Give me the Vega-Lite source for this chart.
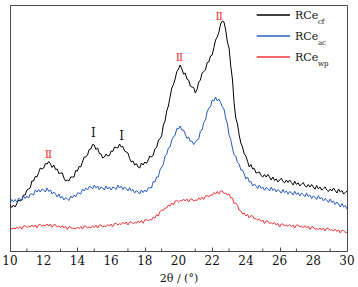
{
  "$schema": "https://vega.github.io/schema/vega-lite/v6.json",
  "width": 337,
  "height": 246,
  "autosize": {"type": "none"},
  "padding": {"left": 10, "top": 5, "right": 11, "bottom": 36},
  "background": "white",
  "config": {
    "view": {"stroke": "#4a4a4a", "strokeWidth": 1},
    "font": "DejaVu Serif",
    "axis": {"labelFont": "DejaVu Serif", "titleFont": "DejaVu Serif"}
  },
  "datasets": {
    "xrd": [
      {"x":10.0,"cf":46,"ac":47,"wp":24},{"x":10.1,"cf":43.5,"ac":51.5,"wp":22},{"x":10.2,"cf":46,"ac":49,"wp":23},{"x":10.3,"cf":44,"ac":51.5,"wp":22},{"x":10.4,"cf":47,"ac":49,"wp":24},
      {"x":10.5,"cf":51,"ac":52.5,"wp":22.3},{"x":10.6,"cf":50,"ac":52,"wp":24.5},{"x":10.7,"cf":51,"ac":50.5,"wp":21.8},{"x":10.8,"cf":56,"ac":55,"wp":25},{"x":10.9,"cf":56,"ac":52.5,"wp":25.3},
      {"x":11.0,"cf":61,"ac":55,"wp":23.5},{"x":11.1,"cf":62,"ac":53,"wp":24.8},{"x":11.2,"cf":63,"ac":57,"wp":24},{"x":11.3,"cf":70,"ac":57,"wp":26},{"x":11.4,"cf":70,"ac":56,"wp":24},
      {"x":11.5,"cf":74.5,"ac":61,"wp":26},{"x":11.6,"cf":74,"ac":59,"wp":23},{"x":11.7,"cf":78.5,"ac":61.5,"wp":26.3},{"x":11.8,"cf":83,"ac":59,"wp":26.5},{"x":11.9,"cf":82,"ac":62,"wp":24.8},
      {"x":12.0,"cf":83,"ac":61,"wp":26},{"x":12.1,"cf":87.5,"ac":59,"wp":25},{"x":12.2,"cf":87,"ac":63,"wp":27},{"x":12.3,"cf":89.5,"ac":59.5,"wp":25},{"x":12.4,"cf":87,"ac":61,"wp":27},
      {"x":12.5,"cf":83.5,"ac":57,"wp":23.8},{"x":12.6,"cf":86,"ac":59,"wp":26.5},{"x":12.7,"cf":81.5,"ac":57,"wp":26.3},{"x":12.8,"cf":82,"ac":54,"wp":24},{"x":12.9,"cf":77.5,"ac":57,"wp":24.8},
      {"x":13.0,"cf":78,"ac":53,"wp":23.5},{"x":13.1,"cf":78,"ac":54.5,"wp":25.3},{"x":13.2,"cf":73,"ac":51,"wp":23},{"x":13.3,"cf":70,"ac":53.5,"wp":24.8},{"x":13.4,"cf":71,"ac":52,"wp":21.5},
      {"x":13.5,"cf":70,"ac":50.5,"wp":24.3},{"x":13.6,"cf":74,"ac":55,"wp":24},{"x":13.7,"cf":74,"ac":53,"wp":22},{"x":13.8,"cf":74,"ac":56,"wp":23},{"x":13.9,"cf":80.5,"ac":54,"wp":22},
      {"x":14.0,"cf":80,"ac":58,"wp":24},{"x":14.1,"cf":84.5,"ac":58,"wp":22.3},{"x":14.2,"cf":84,"ac":57,"wp":24.5},{"x":14.3,"cf":89,"ac":62,"wp":21.8},{"x":14.4,"cf":94,"ac":60,"wp":25},
      {"x":14.5,"cf":94,"ac":63,"wp":25},{"x":14.6,"cf":96,"ac":61,"wp":23},{"x":14.7,"cf":101.5,"ac":64.5,"wp":24},{"x":14.8,"cf":102,"ac":64,"wp":23},{"x":14.9,"cf":106.5,"ac":62,"wp":25.3},
      {"x":15.0,"cf":106,"ac":66,"wp":23.5},{"x":15.1,"cf":101.5,"ac":63,"wp":25.8},{"x":15.2,"cf":103,"ac":65,"wp":23},{"x":15.3,"cf":97.5,"ac":61.5,"wp":26},{"x":15.4,"cf":97,"ac":64,"wp":26},
      {"x":15.5,"cf":93,"ac":63,"wp":24},{"x":15.6,"cf":94,"ac":61,"wp":25},{"x":15.7,"cf":97,"ac":65,"wp":24.3},{"x":15.8,"cf":95,"ac":62,"wp":26.5},{"x":15.9,"cf":95.5,"ac":64,"wp":24.8},
      {"x":16.0,"cf":100,"ac":61,"wp":27},{"x":16.1,"cf":99.5,"ac":64,"wp":24.3},{"x":16.2,"cf":104,"ac":63,"wp":27.5},{"x":16.3,"cf":103.5,"ac":61.5,"wp":27.8},{"x":16.4,"cf":103,"ac":66,"wp":26},
      {"x":16.5,"cf":107,"ac":63,"wp":27.3},{"x":16.6,"cf":104,"ac":65,"wp":26.5},{"x":16.7,"cf":104.5,"ac":61.5,"wp":28.8},{"x":16.8,"cf":100,"ac":64,"wp":27},{"x":16.9,"cf":99,"ac":62.5,"wp":29},
      {"x":17.0,"cf":98,"ac":60,"wp":26},{"x":17.1,"cf":92.5,"ac":63.5,"wp":29},{"x":17.2,"cf":89,"ac":60,"wp":29},{"x":17.3,"cf":90,"ac":61.5,"wp":27.3},{"x":17.4,"cf":86,"ac":58,"wp":28.5},
      {"x":17.5,"cf":87.5,"ac":60.5,"wp":27.8},{"x":17.6,"cf":84,"ac":59,"wp":30},{"x":17.7,"cf":83,"ac":57,"wp":28.3},{"x":17.8,"cf":88,"ac":61,"wp":30.5},{"x":17.9,"cf":86,"ac":58.5,"wp":27.8},
      {"x":18.0,"cf":89,"ac":61,"wp":31},{"x":18.1,"cf":87.5,"ac":59,"wp":31.5},{"x":18.2,"cf":91,"ac":63,"wp":30},{"x":18.3,"cf":95,"ac":63.5,"wp":31.5},{"x":18.4,"cf":94,"ac":63,"wp":31},
      {"x":18.5,"cf":96,"ac":69.5,"wp":34},{"x":18.6,"cf":102,"ac":69,"wp":33},{"x":18.7,"cf":103.5,"ac":74,"wp":36.5},{"x":18.8,"cf":110,"ac":74,"wp":35},{"x":18.9,"cf":112.5,"ac":81,"wp":39.5},
      {"x":19.0,"cf":115,"ac":84,"wp":41},{"x":19.1,"cf":126,"ac":86.5,"wp":40.5},{"x":19.2,"cf":130,"ac":95,"wp":43},{"x":19.3,"cf":140,"ac":96.5,"wp":43},{"x":19.4,"cf":145,"ac":103,"wp":46},
      {"x":19.5,"cf":154,"ac":104,"wp":45},{"x":19.6,"cf":163,"ac":111,"wp":48},{"x":19.7,"cf":166.5,"ac":114,"wp":46},{"x":19.8,"cf":172,"ac":116,"wp":50},{"x":19.9,"cf":179.5,"ac":122.5,"wp":50.5},
      {"x":20.0,"cf":182,"ac":122,"wp":49},{"x":20.1,"cf":186,"ac":125,"wp":50.5},{"x":20.2,"cf":182,"ac":121,"wp":50},{"x":20.3,"cf":177,"ac":121,"wp":52},{"x":20.4,"cf":178,"ac":117,"wp":50},
      {"x":20.5,"cf":172,"ac":112.5,"wp":52},{"x":20.6,"cf":171,"ac":114,"wp":49},{"x":20.7,"cf":165,"ac":109.5,"wp":52},{"x":20.8,"cf":164,"ac":110,"wp":52},{"x":20.9,"cf":163.5,"ac":106.5,"wp":50},
      {"x":21.0,"cf":158,"ac":109,"wp":51},{"x":21.1,"cf":161.5,"ac":111,"wp":50.5},{"x":21.2,"cf":169,"ac":112,"wp":53},{"x":21.3,"cf":171,"ac":120,"wp":51.5},{"x":21.4,"cf":178,"ac":121,"wp":54},
      {"x":21.5,"cf":179.5,"ac":128.5,"wp":51.5},{"x":21.6,"cf":181,"ac":131,"wp":55},{"x":21.7,"cf":188.5,"ac":139,"wp":55.5},{"x":21.8,"cf":189,"ac":143,"wp":54},{"x":21.9,"cf":195,"ac":144,"wp":56},
      {"x":22.0,"cf":196,"ac":151,"wp":56},{"x":22.1,"cf":203.5,"ac":150,"wp":58.5},{"x":22.2,"cf":211,"ac":154,"wp":57},{"x":22.3,"cf":214,"ac":150,"wp":59.5},{"x":22.4,"cf":219,"ac":152,"wp":57},
      {"x":22.5,"cf":227,"ac":148.5,"wp":60},{"x":22.6,"cf":230,"ac":144,"wp":60},{"x":22.7,"cf":229,"ac":142,"wp":57.5},{"x":22.8,"cf":221,"ac":133,"wp":58},{"x":22.9,"cf":209,"ac":127,"wp":56},
      {"x":23.0,"cf":203,"ac":116,"wp":57},{"x":23.1,"cf":185,"ac":111.5,"wp":53},{"x":23.2,"cf":172,"ac":103,"wp":53},{"x":23.3,"cf":148,"ac":96,"wp":47.5},{"x":23.4,"cf":133,"ac":95,"wp":48},
      {"x":23.5,"cf":127,"ac":88.5,"wp":45.5},{"x":23.6,"cf":116,"ac":87,"wp":41},{"x":23.7,"cf":108,"ac":81,"wp":40},{"x":23.8,"cf":104,"ac":81,"wp":37},{"x":23.9,"cf":97,"ac":77,"wp":38},
      {"x":24.0,"cf":95,"ac":72,"wp":35},{"x":24.1,"cf":89.5,"ac":74,"wp":36.5},{"x":24.2,"cf":84,"ac":69,"wp":33},{"x":24.3,"cf":86.5,"ac":69.5,"wp":35.5},{"x":24.4,"cf":82,"ac":65,"wp":35},
      {"x":24.5,"cf":82.5,"ac":67,"wp":32.3},{"x":24.6,"cf":78,"ac":65,"wp":32.5},{"x":24.7,"cf":78.5,"ac":62.5,"wp":30.8},{"x":24.8,"cf":79,"ac":66,"wp":32},{"x":24.9,"cf":75.5,"ac":62.5,"wp":29.5},
      {"x":25.0,"cf":74,"ac":64,"wp":31},{"x":25.1,"cf":76.5,"ac":60.8,"wp":27.5},{"x":25.2,"cf":74,"ac":63.5,"wp":30},{"x":25.3,"cf":76.5,"ac":62.3,"wp":29.8},{"x":25.4,"cf":74,"ac":60,"wp":27.5},
      {"x":25.5,"cf":71,"ac":63.8,"wp":28.3},{"x":25.6,"cf":74,"ac":60.5,"wp":27},{"x":25.7,"cf":70.5,"ac":62.3,"wp":28.5},{"x":25.8,"cf":72,"ac":59,"wp":26},{"x":25.9,"cf":69,"ac":61.5,"wp":27.5},
      {"x":26.0,"cf":71,"ac":60,"wp":24},{"x":26.1,"cf":72.8,"ac":57.8,"wp":27},{"x":26.2,"cf":69.5,"ac":61.5,"wp":27},{"x":26.3,"cf":68.2,"ac":58.3,"wp":25},{"x":26.4,"cf":71,"ac":60,"wp":26},
      {"x":26.5,"cf":68.5,"ac":56.8,"wp":24.8},{"x":26.6,"cf":71,"ac":59.5,"wp":26.5},{"x":26.7,"cf":68.5,"ac":58.3,"wp":24.3},{"x":26.8,"cf":66,"ac":56,"wp":26},{"x":26.9,"cf":69.8,"ac":59.8,"wp":23},
      {"x":27.0,"cf":66.5,"ac":56.5,"wp":26},{"x":27.1,"cf":68.2,"ac":58.3,"wp":26},{"x":27.2,"cf":65,"ac":55,"wp":24},{"x":27.3,"cf":66.8,"ac":57.8,"wp":24.8},{"x":27.4,"cf":68.5,"ac":56.5,"wp":23.5},
      {"x":27.5,"cf":65.2,"ac":54.3,"wp":25.3},{"x":27.6,"cf":64,"ac":58,"wp":23},{"x":27.7,"cf":66.5,"ac":54.5,"wp":24.8},{"x":27.8,"cf":64,"ac":56,"wp":21.5},{"x":27.9,"cf":66.5,"ac":52.5,"wp":24.3},
      {"x":28.0,"cf":64,"ac":55,"wp":24},{"x":28.1,"cf":61.8,"ac":53.8,"wp":21.8},{"x":28.2,"cf":65.5,"ac":51.5,"wp":22.5},{"x":28.3,"cf":62.2,"ac":55.3,"wp":21.3},{"x":28.4,"cf":64,"ac":52,"wp":23},
      {"x":28.5,"cf":60.8,"ac":53.5,"wp":21},{"x":28.6,"cf":62.5,"ac":50,"wp":23},{"x":28.7,"cf":64.2,"ac":52.5,"wp":20},{"x":28.8,"cf":61,"ac":51,"wp":23},{"x":28.9,"cf":59.5,"ac":48.5,"wp":22.8},
      {"x":29.0,"cf":62,"ac":52,"wp":20.5},{"x":29.1,"cf":60,"ac":48.5,"wp":21.3},{"x":29.2,"cf":63,"ac":50,"wp":20},{"x":29.3,"cf":60.5,"ac":46.5,"wp":21.8},{"x":29.4,"cf":58,"ac":49,"wp":19.5},
      {"x":29.5,"cf":62,"ac":47,"wp":21.3},{"x":29.6,"cf":59,"ac":44,"wp":18},{"x":29.7,"cf":60.5,"ac":47.5,"wp":20.8},{"x":29.8,"cf":57,"ac":44,"wp":20.5},{"x":29.9,"cf":58.5,"ac":45.5,"wp":18.3},
      {"x":30.0,"cf":60,"ac":42,"wp":19}
    ],
    "minor": [{"x": 11}, {"x": 13}, {"x": 15}, {"x": 17}, {"x": 19}, {"x": 21}, {"x": 23}, {"x": 25}, {"x": 27}, {"x": 29}],
    "ticks": [{"x": 10}, {"x": 12}, {"x": 14}, {"x": 16}, {"x": 18}, {"x": 20}, {"x": 22}, {"x": 24}, {"x": 26}, {"x": 28}, {"x": 30}],
    "peaks": [
      {"x": 12.28, "y": 96, "label": "Ⅱ", "kind": "II"},
      {"x": 14.95, "y": 118, "label": "I", "kind": "I"},
      {"x": 16.63, "y": 115, "label": "I", "kind": "I"},
      {"x": 20.06, "y": 193.5, "label": "Ⅱ", "kind": "II"},
      {"x": 22.42, "y": 234.5, "label": "Ⅱ", "kind": "II"}
    ],
    "legend": [
      {"series": "cf"},
      {"series": "ac"},
      {"series": "wp"}
    ]
  },
  "resolve": {"scale": {"y": "independent"}},
  "layer": [
    {
      "data": {"name": "xrd"},
      "transform": [{"fold": ["cf", "ac", "wp"], "as": ["series", "intensity"]}],
      "mark": {"type": "line", "strokeWidth": 1, "clip": true},
      "encoding": {
        "x": {
          "field": "x", "type": "quantitative",
          "scale": {"domain": [10, 30], "nice": false, "zero": false},
          "axis": {
            "values": [10,12,14,16,18,20,22,24,26,28,30],
            "labels": false,
            "tickSize": -4, "tickColor": "#4a4a4a", "domainColor": "#4a4a4a",
            "title": "2θ / (°)", "titleFont": "DejaVu Serif", "titleFontSize": 11, "titleFontWeight": "normal", "titleColor": "#111111", "titlePadding": 21,
            "grid": false
          }
        },
        "y": {"field": "intensity", "type": "quantitative", "scale": {"domain": [0, 246]}, "axis": null},
        "color": {
          "field": "series", "type": "nominal",
          "scale": {"domain": ["cf", "ac", "wp"], "range": ["#000000", "#2a5cbf", "#f0353a"]},
          "legend": null
        }
      }
    },
    {
      "data": {"name": "minor"},
      "mark": {"type": "rule", "color": "#4a4a4a", "strokeWidth": 1},
      "encoding": {
        "x": {"field": "x", "type": "quantitative"},
        "y": {"datum": 0, "type": "quantitative", "scale": {"domain": [0, 246]}, "axis": null},
        "y2": {"datum": 2.5}
      }
    },
    {
      "data": {"name": "ticks"},
      "mark": {"type": "text", "font": "DejaVu Serif", "fontSize": 12, "color": "#111111", "baseline": "top", "align": "center", "clip": false},
      "encoding": {
        "x": {"field": "x", "type": "quantitative"},
        "y": {"datum": -5, "type": "quantitative", "scale": {"domain": [0, 246]}, "axis": null},
        "text": {"field": "x", "type": "quantitative"}
      }
    },
    {
      "data": {"name": "peaks"},
      "transform": [{"filter": "datum.kind === 'II'"}],
      "mark": {"type": "text", "font": "DejaVu Serif", "fontSize": 11, "color": "#f0353a", "baseline": "middle", "align": "center"},
      "encoding": {
        "x": {"field": "x", "type": "quantitative"},
        "y": {"field": "y", "type": "quantitative", "scale": {"domain": [0, 246]}, "axis": null},
        "text": {"field": "label"}
      }
    },
    {
      "data": {"name": "peaks"},
      "transform": [{"filter": "datum.kind === 'I'"}],
      "mark": {"type": "text", "font": "DejaVu Serif", "fontSize": 12, "color": "#111111", "baseline": "middle", "align": "center"},
      "encoding": {
        "x": {"field": "x", "type": "quantitative"},
        "y": {"field": "y", "type": "quantitative", "scale": {"domain": [0, 246]}, "axis": null},
        "text": {"field": "label"}
      }
    },
    {
      "data": {"name": "legend"},
      "mark": {"type": "rule", "strokeWidth": 1.5},
      "encoding": {
        "x": {"datum": 24.64, "type": "quantitative"},
        "x2": {"datum": 26.62},
        "y": {"field": "series", "type": "nominal", "scale": {"type": "point", "domain": ["cf", "ac", "wp"], "range": [10, 52], "padding": 0}, "axis": null},
        "color": {"field": "series", "type": "nominal", "legend": null}
      }
    },
    {
      "data": {"name": "legend"},
      "mark": {"type": "text", "font": "DejaVu Serif", "fontSize": 11, "color": "#111111", "align": "left", "baseline": "alphabetic", "dy": 4},
      "encoding": {
        "x": {"datum": 26.91, "type": "quantitative"},
        "y": {"field": "series", "type": "nominal", "scale": {"type": "point", "domain": ["cf", "ac", "wp"], "range": [10, 52], "padding": 0}, "axis": null},
        "text": {"value": "RCe"}
      }
    },
    {
      "data": {"name": "legend"},
      "mark": {"type": "text", "font": "DejaVu Serif", "fontSize": 7, "color": "#111111", "align": "left", "baseline": "alphabetic", "dx": 23, "dy": 9},
      "encoding": {
        "x": {"datum": 26.91, "type": "quantitative"},
        "y": {"field": "series", "type": "nominal", "scale": {"type": "point", "domain": ["cf", "ac", "wp"], "range": [10, 52], "padding": 0}, "axis": null},
        "text": {"field": "series"}
      }
    }
  ]
}
